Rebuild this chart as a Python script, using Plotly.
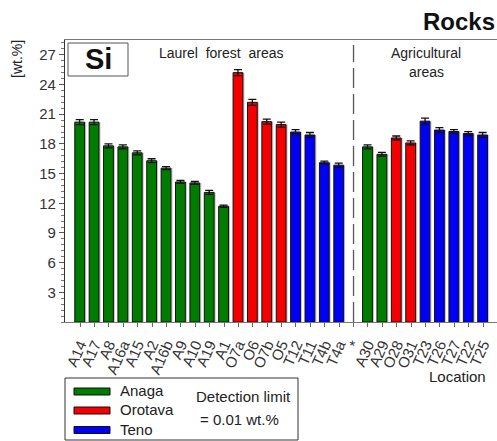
import plotly.graph_objects as go

# Si content of rock samples per location
locations = ["A14", "A17", "A8", "A16a", "A15", "A2", "A16b", "A9", "A10", "A19", "A1",
             "O7a", "O6", "O7b", "O5", "T12", "T11", "T4b", "T4a", "*",
             "A30", "A29", "O28", "O31", "T23", "T26", "T27", "T22", "T25"]
si_values = [20.2, 20.2, 17.8, 17.7, 17.1, 16.3, 15.55, 14.15, 14.05, 13.1, 11.7,
             25.2, 22.2, 20.25, 19.95, 19.2, 18.9, 16.1, 15.85, None,
             17.7, 16.95, 18.6, 18.1, 20.3, 19.4, 19.25, 19.05, 18.9]
si_errors = [0.25, 0.25, 0.2, 0.2, 0.2, 0.2, 0.15, 0.15, 0.15, 0.2, 0.12,
             0.3, 0.3, 0.25, 0.25, 0.25, 0.25, 0.15, 0.2, None,
             0.2, 0.2, 0.2, 0.2, 0.3, 0.25, 0.2, 0.2, 0.25]
regions = ["Anaga"] * 11 + ["Orotava"] * 4 + ["Teno"] * 4 + [None] + \
          ["Anaga", "Anaga", "Orotava", "Orotava", "Teno", "Teno", "Teno", "Teno", "Teno"]
y_ticks = [3, 6, 9, 12, 15, 18, 21, 24, 27]

region_colors = {"Anaga": "#007d00", "Orotava": "#f50000", "Teno": "#0000f5", None: "rgba(0,0,0,0)"}
bar_colors = [region_colors[r] for r in regions]

FONT = "Arial, Liberation Sans, sans-serif"

# plot area in pixels
W, H = 497, 441
L, R, T, B = 65, 497, 40, 322


def px(x):
    """pixel column -> paper x"""
    return (x - L) / (R - L)


def py(y):
    """pixel row -> paper y"""
    return (B - y) / (B - T)


fig = go.Figure()

# soft grey shadow behind each bar
fig.add_trace(go.Bar(
    x=locations, y=si_values, width=0.72, offset=-0.30,
    marker=dict(color="rgba(150,150,150,0.55)", line=dict(width=0)),
    hoverinfo="skip", showlegend=False,
))

fig.add_trace(go.Bar(
    x=locations, y=si_values, width=0.68, offset=-0.37,
    marker=dict(color=bar_colors, line=dict(color="#111111", width=1)),
    error_y=dict(type="data", array=si_errors, visible=True,
                 color="#111111", thickness=1.3, width=4),
    showlegend=False,
))

# separator between the two area groups
fig.add_shape(type="line", xref="x", yref="paper", x0="*", x1="*", y0=0, y1=py(45),
              line=dict(color="#555555", width=1.3, dash="20px,6px"))

fig.update_layout(
    width=W, height=H,
    margin=dict(l=L, r=W - R, t=T, b=H - B),
    paper_bgcolor="white", plot_bgcolor="white",
    font=dict(family=FONT, color="#222222"),
    xaxis=dict(
        type="category", categoryorder="array", categoryarray=locations,
        tickmode="array", tickvals=locations, ticktext=locations,
        range=[-1.05, 28.97],
        showline=True, linecolor="#777777", linewidth=1.3, mirror=True,
        ticks="outside", ticklen=4, tickcolor="#666666",
        tickangle=-66, ticklabelstandoff=3,
        tickfont=dict(size=15, family=FONT, color="#333333"),
        showgrid=False, zeroline=False,
    ),
    yaxis=dict(
        range=[0, 28.5],
        tickmode="array", tickvals=y_ticks,
        showline=True, linecolor="#333333", linewidth=1.3,
        ticks="outside", ticklen=5, tickcolor="#555555",
        tickfont=dict(size=15, family=FONT, color="#333333"),
        minor=dict(dtick=0.6, tick0=0, ticks="outside", ticklen=3, tickcolor="#777777"),
        showgrid=False, zeroline=False,
    ),
)

annotations = [
    dict(text="<b>Rocks</b>", x=1.0, y=py(21), xanchor="right", yanchor="middle",
         font=dict(size=24, color="#111111")),
    dict(text="<b>Si</b>", x=px(98), y=py(59), xanchor="center", yanchor="middle",
         font=dict(size=29, color="#111111")),
    dict(text="Laurel  forest  areas", x=px(221), y=py(53), xanchor="center",
         yanchor="middle", font=dict(size=14, color="#222222")),
    dict(text="Agricultural", x=px(426), y=py(53), xanchor="center",
         yanchor="middle", font=dict(size=14, color="#222222")),
    dict(text="areas", x=px(426), y=py(72), xanchor="center",
         yanchor="middle", font=dict(size=14, color="#222222")),
    dict(text="[wt.%]", x=px(17), y=py(59), xanchor="center", yanchor="middle",
         textangle=-90, font=dict(size=14, color="#222222")),
    dict(text="Location", x=px(488), y=py(377), xanchor="right", yanchor="middle",
         font=dict(size=15, color="#222222")),
    dict(text="Detection limit", x=px(243), y=py(396), xanchor="center",
         yanchor="middle", font=dict(size=15, color="#222222")),
    dict(text="= 0.01 wt.%", x=px(239), y=py(419), xanchor="center",
         yanchor="middle", font=dict(size=15, color="#222222")),
]

shapes = [
    # "Si" frame
    dict(type="rect", xref="paper", yref="paper", x0=px(68), x1=px(128),
         y0=py(76), y1=py(43), line=dict(color="#555555", width=1)),
    # legend frame
    dict(type="rect", xref="paper", yref="paper", x0=px(65), x1=px(298),
         y0=py(440), y1=py(378), line=dict(color="#333333", width=1),
         fillcolor="white"),
]

legend_items = [("Anaga", 391.5), ("Orotava", 410.5), ("Teno", 430)]
for name, ypix in legend_items:
    shapes.append(dict(type="rect", xref="paper", yref="paper",
                       x0=px(74), x1=px(110), y0=py(ypix + 3.5), y1=py(ypix - 3.5),
                       fillcolor=region_colors[name], line=dict(color="#111111", width=1)))
    annotations.append(dict(text=name, x=px(118), y=py(ypix - 1), xanchor="left",
                            yanchor="middle", font=dict(size=15, color="#222222")))

for a in annotations:
    a.setdefault("xref", "paper")
    a.setdefault("yref", "paper")
    a["showarrow"] = False

fig.update_layout(annotations=annotations)
for s in shapes:
    fig.add_shape(**s)

fig.write_html("out.html")
